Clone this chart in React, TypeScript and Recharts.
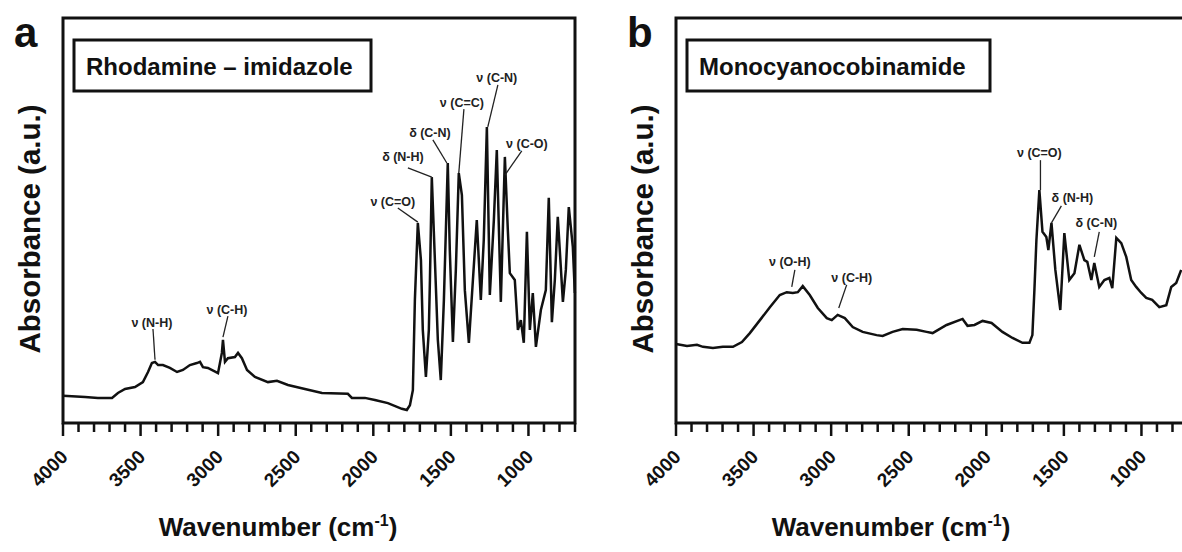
import React from 'react';
import {
  LineChart,
  Line,
  XAxis,
  YAxis,
  ReferenceArea,
  ReferenceLine,
  ReferenceDot
} from 'recharts';

// FTIR spectrum, rhodamine–imidazole (wavenumber in cm-1, absorbance in a.u.)
const rhodWn = [
  4000, 3858, 3775, 3684, 3646, 3600, 3536, 3485, 3452, 3427, 3407, 3387, 3356, 3311, 3265, 3227,
  3182, 3137, 3117, 3098, 3066, 3001, 2976, 2969, 2956, 2937, 2892, 2872, 2847, 2814, 2763, 2679,
  2621, 2550, 2441, 2331, 2164, 2138, 2054, 1990, 1906, 1816, 1784, 1764, 1745, 1732, 1713, 1693,
  1681, 1661, 1642, 1635, 1623, 1603, 1584, 1565, 1545, 1520, 1507, 1487, 1468, 1449, 1429, 1410,
  1384, 1358, 1333, 1307, 1288, 1268, 1249, 1223, 1204, 1178, 1152, 1133, 1120, 1088, 1068, 1049,
  1030, 1010, 991, 972, 952, 920, 888, 869, 849, 830, 811, 778, 759, 740, 714, 701
];
const rhodAbs = [
  6.7, 6.4, 6.2, 6.2, 7.4, 8.4, 8.9, 10.1, 12.6, 14.8, 15.1, 14.3, 14.3, 13.6, 12.6, 13.1,
  14.3, 14.8, 15.1, 13.8, 13.6, 12.3, 17.3, 20.5, 15.1, 16.0, 16.3, 17.3, 16.0, 13.1, 11.4, 10.1,
  10.4, 9.4, 8.4, 7.4, 7.2, 6.2, 6.2, 5.7, 4.9, 3.5, 3.2, 4.4, 8.1, 30.4, 49.4, 40.2,
  23.0, 11.4, 23.0, 35.3, 60.7, 40.2, 20.5, 10.6, 30.4, 64.2, 42.7, 20.0, 37.8, 61.7, 56.3, 32.8,
  19.8, 35.3, 50.1, 30.4, 45.2, 73.1, 31.6, 50.1, 67.4, 29.9, 65.7, 47.7, 37.0, 35.3, 23.0, 25.4,
  19.8, 47.2, 23.0, 32.1, 18.8, 27.9, 32.8, 55.6, 24.9, 35.3, 50.9, 29.9, 37.8, 53.3, 43.5, 32.1
];

// FTIR spectrum, monocyanocobinamide
const cobWn = [
  4000, 3929, 3865, 3826, 3762, 3698, 3633, 3575, 3524, 3459, 3395, 3331, 3286, 3247, 3215, 3183,
  3138, 3086, 3028, 2996, 2958, 2912, 2861, 2797, 2707, 2668, 2604, 2539, 2449, 2385, 2346, 2256,
  2153, 2121, 2076, 2024, 1966, 1896, 1831, 1767, 1722, 1703, 1690, 1677, 1658, 1638, 1613, 1600,
  1580, 1555, 1523, 1497, 1465, 1432, 1400, 1368, 1349, 1323, 1304, 1272, 1239, 1207, 1188, 1162,
  1130, 1098, 1066, 1034, 1001, 969, 931, 885, 840, 808, 776, 744
];
const cobAbs = [
  19.5, 19.0, 19.3, 18.8, 18.5, 18.8, 18.8, 20.0, 22.2, 25.4, 28.6, 31.6, 32.3, 32.1, 32.3, 33.8,
  31.6, 28.4, 25.9, 25.4, 26.7, 25.9, 23.7, 22.5, 21.7, 21.5, 22.5, 23.2, 23.0, 22.5, 22.2, 24.2,
  25.7, 24.0, 24.2, 25.2, 24.7, 22.5, 21.0, 19.8, 19.8, 21.7, 32.8, 45.2, 57.5, 47.2, 45.9, 42.7,
  49.4, 37.8, 27.9, 46.9, 35.3, 37.0, 44.0, 40.2, 39.8, 35.3, 39.5, 33.6, 35.3, 35.8, 33.3, 45.7,
  44.4, 41.0, 35.3, 33.6, 32.1, 30.9, 30.4, 28.6, 29.1, 33.6, 34.6, 37.8
];

const majorTicks = [4000, 3500, 3000, 2500, 2000, 1500, 1000];
const minorTicks = [
  3900, 3800, 3700, 3600, 3400, 3300, 3200, 3100, 2900, 2800, 2700, 2600, 2400, 2300,
  2200, 2100, 1900, 1800, 1700, 1600, 1400, 1300, 1200, 1100, 900, 800, 700
];

// band assignments: label position, then leader line start -> end
type Band = { text: string; tx: number; ty: number; x1: number; y1: number; x2: number; y2: number };

const rhodBands: Band[] = [
  { text: 'ν (N-H)', tx: 3427, ty: 24.9, x1: 3420, y1: 23.2, x2: 3407, y2: 15.6 },
  { text: 'ν (C-H)', tx: 2943, ty: 28.1, x1: 2937, y1: 26.4, x2: 2969, y2: 21.2 },
  { text: 'ν (C=O)', tx: 1874, ty: 54.6, x1: 1842, y1: 53.1, x2: 1713, y2: 49.6 },
  { text: 'δ (N-H)', tx: 1809, ty: 65.7, x1: 1777, y1: 63.0, x2: 1623, y2: 60.7 },
  { text: 'δ (C-N)', tx: 1635, ty: 71.6, x1: 1616, y1: 69.9, x2: 1526, y2: 64.2 },
  { text: 'ν (C=C)', tx: 1429, ty: 79.0, x1: 1416, y1: 77.5, x2: 1449, y2: 61.7 },
  { text: 'ν (C-N)', tx: 1204, ty: 85.4, x1: 1197, y1: 83.5, x2: 1262, y2: 73.1 },
  { text: 'ν (C-O)', tx: 1010, ty: 69.1, x1: 1043, y1: 67.2, x2: 1152, y2: 61.2 }
];

const cobBands: Band[] = [
  { text: 'ν (O-H)', tx: 3266, ty: 39.8, x1: 3234, y1: 37.8, x2: 3254, y2: 33.6 },
  { text: 'ν (C-H)', tx: 2867, ty: 36.0, x1: 2900, y1: 34.1, x2: 2951, y2: 28.4 },
  { text: 'ν (C=O)', tx: 1658, ty: 66.7, x1: 1651, y1: 64.9, x2: 1651, y2: 57.5 },
  { text: 'δ (N-H)', tx: 1445, ty: 55.6, x1: 1516, y1: 53.6, x2: 1580, y2: 49.4 },
  { text: 'δ (C-N)', tx: 1291, ty: 49.4, x1: 1272, y1: 47.2, x2: 1304, y2: 41.0 }
];

const toRows = (wn: number[], abs: number[]) => wn.map((w, i) => ({ wn: w, abs: abs[i] }));

const INK = '#111';

const WaveTick = (props: any) => {
  const { x, y, payload } = props;
  const major = majorTicks.includes(payload.value);
  const ax = x + 6;
  const ay = y + 35;
  return (
    <g>
      <line x1={x} y1={y} x2={x} y2={y + (major ? 13 : 9)} stroke={INK} strokeWidth={2.5} />
      {major && (
        <text
          x={ax}
          y={ay}
          textAnchor="end"
          transform={`rotate(-45, ${ax}, ${ay})`}
          fontSize={19}
          fontWeight="bold"
          fill={INK}
        >
          {payload.value}
        </text>
      )}
    </g>
  );
};

const BandLabel = (text: string) => (p: any) => (
  <text x={p.cx} y={p.cy} dy="0.35em" textAnchor="middle" fontSize={12.5} fontWeight="bold" fill="#222">
    {text}
  </text>
);

interface PanelProps {
  left: number;
  letter: string;
  title: string;
  boxWidth: number;
  rows: { wn: number; abs: number }[];
  bands: Band[];
}

const Panel: React.FC<PanelProps> = ({ left, letter, title, boxWidth, rows, bands }) => (
  <div style={{ position: 'absolute', left, top: 0, width: 613, height: 552 }}>
    <LineChart width={613} height={552} data={rows} margin={{ top: 18, right: 38, left: 63, bottom: 0 }}>
      <XAxis
        dataKey="wn"
        type="number"
        domain={[700, 4000]}
        reversed
        ticks={[...majorTicks, ...minorTicks]}
        interval={0}
        axisLine={false}
        tickLine={false}
        tickSize={0}
        tickMargin={0}
        height={129}
        tick={<WaveTick />}
      />
      <YAxis type="number" domain={[0, 100]} hide width={0} />
      <ReferenceArea x1={4000} x2={700} y1={0} y2={100} fill="none" stroke={INK} strokeWidth={3} />
      <Line
        type="linear"
        dataKey="abs"
        stroke={INK}
        strokeWidth={2.5}
        dot={false}
        isAnimationActive={false}
      />
      {bands.map(b => (
        <ReferenceLine
          key={`l-${b.text}`}
          segment={[{ x: b.x1, y: b.y1 }, { x: b.x2, y: b.y2 }]}
          stroke="#222"
          strokeWidth={1.3}
        />
      ))}
      {bands.map(b => (
        <ReferenceDot key={`t-${b.text}`} x={b.tx} y={b.ty} r={0} shape={BandLabel(b.text)} />
      ))}
    </LineChart>
    <svg width={613} height={552} style={{ position: 'absolute', left: 0, top: 0, pointerEvents: 'none' }}>
      <text x={14} y={47} fontSize={42} fontWeight="bold" fill={INK}>{letter}</text>
      <text
        transform="translate(40, 229) rotate(-90)"
        textAnchor="middle"
        fontSize={29.5}
        fontWeight="bold"
        fill={INK}
      >
        Absorbance (a.u.)
      </text>
      <text x={278} y={536} textAnchor="middle" fontSize={26} fontWeight="bold" fill={INK}>
        Wavenumber (cm<tspan dy={-10} fontSize={16}>-1</tspan><tspan dy={10}>)</tspan>
      </text>
      <rect x={74} y={40} width={boxWidth} height={51} fill="none" stroke={INK} strokeWidth={3} />
      <text x={86} y={75} fontSize={24} fontWeight="bold" fill={INK}>{title}</text>
    </svg>
  </div>
);

const App: React.FC = () => (
  <div
    style={{
      position: 'fixed',
      left: 0,
      top: 0,
      width: 1182,
      height: 552,
      overflow: 'hidden',
      background: '#fff',
      fontFamily: "'Liberation Sans', Arial, sans-serif"
    }}
  >
    <Panel left={0} letter="a" title="Rhodamine – imidazole" boxWidth={297} rows={toRows(rhodWn, rhodAbs)} bands={rhodBands} />
    <Panel left={613} letter="b" title="Monocyanocobinamide" boxWidth={303} rows={toRows(cobWn, cobAbs)} bands={cobBands} />
  </div>
);

export default App;
